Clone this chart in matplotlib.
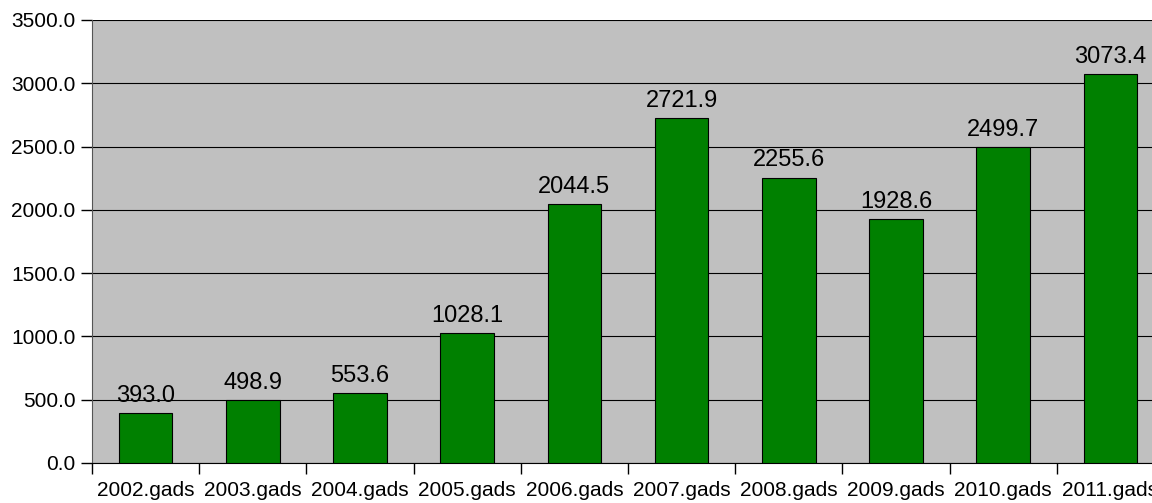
import numpy as np
import matplotlib.pyplot as plt
from matplotlib.ticker import FixedLocator, FormatStrFormatter

plt.rcParams['font.family'] = ['Liberation Sans', 'DejaVu Sans']

years = ['2002.gads', '2003.gads', '2004.gads', '2005.gads', '2006.gads',
         '2007.gads', '2008.gads', '2009.gads', '2010.gads', '2011.gads']
values = [393.0, 498.9, 553.6, 1028.1, 2044.5, 2721.9, 2255.6, 1928.6, 2499.7, 3073.4]

fig = plt.figure(figsize=(11.52, 5.03), dpi=100)
ax = fig.add_axes([92 / 1152, 40 / 503, 1072 / 1152, 443 / 503])
ax.set_facecolor('#c0c0c0')

x = np.arange(len(years))
bars = ax.bar(x, values, width=0.5, color='#008000', edgecolor='black', linewidth=0.8, zorder=3)

for xi, v in zip(x, values):
    ax.text(xi, v + 87, f'{v:.1f}', ha='center', va='baseline', fontsize=17, zorder=4)

ax.set_xlim(-0.5, len(years) - 0.5)
ax.set_ylim(0, 3500)
ax.set_yticks(np.arange(0, 3501, 500))
ax.yaxis.set_major_formatter(FormatStrFormatter('%.1f'))
ax.grid(axis='y', color='black', linewidth=0.8, zorder=1)

# ticks between categories, labels at category centres
ax.xaxis.set_major_locator(FixedLocator(np.arange(-0.5, len(years), 1.0)))
ax.xaxis.set_major_formatter(plt.NullFormatter())
ax.xaxis.set_minor_locator(FixedLocator(x))
ax.set_xticklabels(years, minor=True)
ax.tick_params(axis='x', which='minor', length=0, labelsize=15, pad=13)
ax.tick_params(axis='x', which='major', length=8, width=1, direction='out')
ax.tick_params(axis='y', length=8, width=1, direction='out', labelsize=15, pad=4)

for side in ['top', 'right']:
    ax.spines[side].set_visible(False)
ax.spines['left'].set_color('#555555')
ax.spines['bottom'].set_color('black')

fig.savefig('out.png', dpi=100)
